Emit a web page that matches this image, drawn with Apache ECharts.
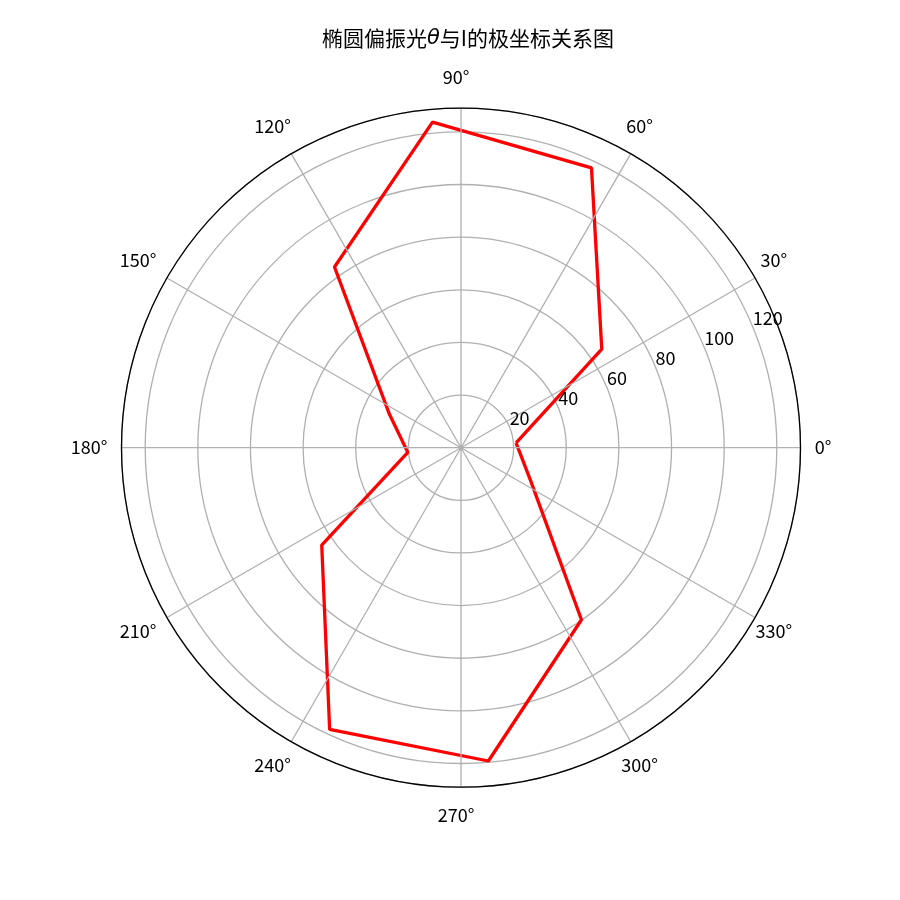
<!DOCTYPE html>
<html>
<head>
<meta charset="utf-8">
<script src="https://cdn.jsdelivr.net/npm/echarts@6/dist/echarts.min.js"></script>
<style>html,body{margin:0;padding:0;background:#fff}#c{width:900px;height:900px}</style>
</head>
<body>
<div id="c"></div>
<script>
const angles = [5, 35, 65, 95, 125, 155, 185, 215, 245, 275, 305, 335];
const intensity = [21.0, 65.3, 117.3, 124.2, 83.8, 30.0, 20.3, 64.6, 118.1, 119.5, 79.8, 29.1];
const radiusTicks = [20, 40, 60, 80, 100, 120];
const angleTicks = [0, 30, 60, 90, 120, 150, 180, 210, 240, 270, 300, 330];
const rMax = 129;
const FONT = '"Noto Sans CJK SC", "DejaVu Sans", sans-serif';
const TICK_FS = 18;

const pts = angles.map((a, i) => [intensity[i], a]);
pts.push([intensity[0], angles[0]]);

const center = [461, 447.7];
const radius = 339.5;
const labelMargin = -20;          // anchor inside, then padded out to emulate centred labels
const labelRadius = 367;          // centre distance of angle labels
const labelShiftX = -5;

// measure label text to build per-label padding (centred look)
const mctx = document.createElement('canvas').getContext('2d');
mctx.font = TICK_FS + 'px ' + FONT;
const lineH = mctx.measureText('国').width;
const rich = {};
angleTicks.forEach(v => {
  const t = v + '°';
  const tw = mctx.measureText(t).width;
  const th = lineH;
  const th_r = v * Math.PI / 180;
  const rho = radius + labelMargin;
  const Ax = rho * Math.cos(th_r), Ay = -rho * Math.sin(th_r);
  const Tx = labelRadius * Math.cos(th_r) + labelShiftX, Ty = -labelRadius * Math.sin(th_r);
  const alignH = Math.abs(Ax) / radius < 0.3 ? 'center' : (Ax > 0 ? 'left' : 'right');
  const alignV = Math.abs(Ay) / radius < 0.3 ? 'middle' : (Ay > 0 ? 'top' : 'bottom');
  let pl = 0, pr = 0, pt = 0, pb = 0;
  if (alignH === 'left') pl = Tx - Ax - tw / 2;
  else if (alignH === 'right') pr = Ax - Tx - tw / 2;
  else { const d = Tx - Ax; if (d > 0) pl = 2 * d; else pr = -2 * d; }
  if (alignV === 'bottom') pb = Ay - Ty - th / 2 + 4;
  else if (alignV === 'top') pt = Ty - Ay - th / 2;
  else { const d = Ty - Ay - 1; if (d > 0) pt = 2 * d; else pb = -2 * d; }
  rich['a' + v] = {
    fontFamily: FONT, fontSize: TICK_FS, color: '#000',
    padding: [Math.max(0, pt), Math.max(0, pr), Math.max(0, pb), Math.max(0, pl)]
  };
});

const chart = echarts.init(document.getElementById('c'), null, {renderer: 'canvas'});
chart.setOption({
  backgroundColor: '#fff',
  animation: false,
  title: {
    text: '椭圆偏振光{i|θ}与I的极坐标关系图',
    left: 322, top: 28, padding: 0,
    textStyle: {
      fontFamily: FONT, fontSize: 21, fontWeight: 'normal', color: '#000',
      rich: { i: { fontFamily: 'DejaVu Sans', fontStyle: 'italic', fontSize: 21, color: '#000' } }
    }
  },
  polar: [
    { center: center, radius: radius },
    { center: center, radius: radius }
  ],
  angleAxis: [
    {
      polarIndex: 0, type: 'value', min: 0, max: 360, interval: 30,
      startAngle: 0, clockwise: false, z: 5,
      axisLine: { show: true, lineStyle: { color: '#000', width: 1.3 } },
      axisTick: { show: false },
      splitLine: { show: true, lineStyle: { color: '#b0b0b0', width: 1.3 } },
      axisLabel: {
        show: true, margin: labelMargin,
        fontFamily: FONT, fontSize: TICK_FS, color: '#000',
        formatter: v => angleTicks.indexOf(v) >= 0 ? '{a' + v + '|' + v + '°}' : '',
        rich: rich
      }
    },
    {
      polarIndex: 1, type: 'value', min: 0, max: 360, startAngle: 22.5, clockwise: false,
      show: false
    }
  ],
  radiusAxis: [
    {
      polarIndex: 0, type: 'value', min: 0, max: rMax, interval: 20, z: 1,
      axisLine: { show: false }, axisTick: { show: false }, axisLabel: { show: false },
      splitLine: { show: true, lineStyle: { color: '#b0b0b0', width: 1.3 } }
    },
    {
      polarIndex: 1, type: 'value', min: 0, max: rMax, interval: 20, z: 6,
      axisLine: { show: false }, axisTick: { show: false }, splitLine: { show: false },
      axisLabel: {
        show: true, margin: 0, align: 'left', verticalAlign: 'bottom',
        fontFamily: FONT, fontSize: TICK_FS, color: '#000',
        formatter: v => radiusTicks.indexOf(v) >= 0 ? String(v) : ''
      }
    }
  ],
  series: [{
    type: 'line', coordinateSystem: 'polar', polarIndex: 0,
    data: pts, symbol: 'none', smooth: false, z: 3,
    lineStyle: { color: '#ff0000', width: 3.3 }
  }]
});
</script>
</body>
</html>
